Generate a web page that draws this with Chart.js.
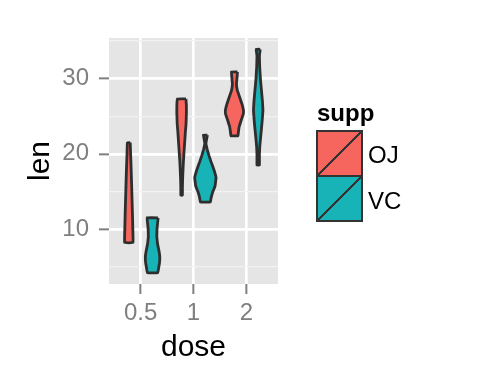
<!DOCTYPE html>
<html>
<head>
<meta charset="utf-8">
<script src="https://cdn.jsdelivr.net/npm/chart.js@4.4.1/dist/chart.umd.min.js"></script>
<style>
  body { margin: 0; background: #fff; font-family: "Liberation Sans", Arial, sans-serif; }
  #wrap { position: relative; width: 480px; height: 384px; }
  #legend .title { position: absolute; left: 317px; top: 101px; font-size: 24px; font-weight: bold; line-height: 24px; }
  .key { position: absolute; left: 316px; width: 47px; height: 47px; box-sizing: border-box; border: 2px solid #333; }
  .lab { position: absolute; left: 368px; font-size: 24px; line-height: 24px; color: #000; }
</style>
</head>
<body>
<div id="wrap">
  <canvas id="violinChart" width="480" height="384"></canvas>
  <div id="legend"></div>
</div>
<script>
const doses = ['0.5', '1', '2'];
const supps = ['OJ', 'VC'];
const suppColors = ['#F7655F', '#17B3B7'];
const yTicks = [10, 20, 30];
const yMinorTicks = [5, 15, 25, 35];

// violin outlines, top to bottom:
// len values and the half width of the violin at that len (in dose units)
const ojLen05 = [21.5, 20, 18, 16, 14, 12, 10, 8.2];
const ojWid05 = [0.027, 0.034, 0.044, 0.053, 0.061, 0.069, 0.076, 0.080];
const ojLen1 = [27.3, 26.5, 25.5, 24, 23, 21, 19, 17, 15.5, 14.5];
const ojWid1 = [0.082, 0.090, 0.091, 0.084, 0.072, 0.053, 0.034, 0.021, 0.015, 0.015];
const ojLen2 = [30.9, 30.2, 29.3, 28.5, 28, 26.7, 25.8, 25.3, 24.5, 23.6, 22.7, 22.4];
const ojWid2 = [0.057, 0.050, 0.038, 0.053, 0.076, 0.139, 0.171, 0.168, 0.130, 0.090, 0.072, 0.069];
const vcLen05 = [11.5, 10.8, 10, 9, 8, 7, 6.3, 5.5, 4.8, 4.2];
const vcWid05 = [0.105, 0.095, 0.084, 0.080, 0.095, 0.124, 0.137, 0.131, 0.114, 0.099];
const vcLen1 = [22.5, 22, 21.4, 20.6, 19.8, 19, 17.9, 16.8, 15.7, 14.9, 14.2, 13.6];
const vcWid1 = [0.038, 0.025, 0.010, 0.034, 0.067, 0.105, 0.162, 0.202, 0.183, 0.137, 0.110, 0.095];
const vcLen2 = [33.9, 33, 31.5, 30, 28.5, 27, 25.8, 24.1, 22.5, 21, 19.9, 18.5];
const vcWid2 = [0.038, 0.023, 0.029, 0.042, 0.061, 0.080, 0.090, 0.072, 0.050, 0.030, 0.023, 0.023];

const groups = [
  { supp: 0, dose: 0, len: ojLen05, wid: ojWid05 },
  { supp: 1, dose: 0, len: vcLen05, wid: vcWid05 },
  { supp: 0, dose: 1, len: ojLen1, wid: ojWid1 },
  { supp: 1, dose: 1, len: vcLen1, wid: vcWid1 },
  { supp: 0, dose: 2, len: ojLen2, wid: ojWid2 },
  { supp: 1, dose: 2, len: vcLen2, wid: vcWid2 }
];

// closed polygon: right side going down, left side coming back up
function outline(cx, lens, wids) {
  const right = lens.map((y, i) => ({ x: cx + wids[i], y: y }));
  const left = lens.map((y, i) => ({ x: cx - wids[i], y: y })).reverse();
  return right.concat(left, [right[0]]);
}

const datasets = groups.map(g => ({
  label: supps[g.supp],
  data: outline(g.dose + 1 + (g.supp === 0 ? -0.225 : 0.225), g.len, g.wid),
  showLine: true,
  fill: 'shape',
  tension: 0.04, // non-zero so chart.js doesn't take the fast path (it merges points sharing an x pixel)
  backgroundColor: suppColors[g.supp],
  borderColor: '#2E2E2E',
  borderWidth: 2.8,
  borderJoinStyle: 'round',
  pointRadius: 0,
  pointHoverRadius: 0
}));

// grey panel behind the grid
const panelBg = {
  id: 'panelBg',
  beforeDraw(chart) {
    const { ctx, chartArea: a } = chart;
    ctx.save();
    ctx.fillStyle = '#E5E5E5';
    ctx.fillRect(a.left, a.top, a.right - a.left, a.bottom - a.top);
    ctx.restore();
  }
};

Chart.defaults.font.family = '"Liberation Sans", Arial, sans-serif';

const ctx = document.getElementById('violinChart').getContext('2d');
new Chart(ctx, {
  type: 'scatter',
  data: { datasets: datasets },
  options: {
    responsive: false,
    animation: false,
    layout: { padding: { left: 0, top: 38, right: 202, bottom: 0 } },
    plugins: { legend: { display: false }, tooltip: { enabled: false } },
    scales: {
      x: {
        type: 'linear',
        min: 0.4,
        max: 3.6,
        afterBuildTicks: axis => { axis.ticks = doses.map((d, i) => ({ value: i + 1 })); },
        afterFit: scale => { scale.height = 100; },
        border: { display: false },
        grid: { color: '#FFFFFF', lineWidth: 2.7, tickColor: '#7F7F7F', tickWidth: 2, tickLength: 10 },
        ticks: {
          color: '#7F7F7F', font: { size: 24 }, padding: 5, maxRotation: 0, autoSkip: false,
          callback: (v, i) => doses[i]
        },
        title: { display: true, text: 'dose', color: '#000', font: { size: 30 }, padding: { top: 0, bottom: 18 } }
      },
      y: {
        type: 'linear',
        position: 'left',
        min: 2.7,
        max: 35.4,
        afterBuildTicks: axis => { axis.ticks = yTicks.map(v => ({ value: v })); },
        afterFit: scale => { scale.width = 109; },
        border: { display: false },
        grid: { color: '#FFFFFF', lineWidth: 2.7, tickColor: '#7F7F7F', tickWidth: 2, tickLength: 10 },
        ticks: { color: '#7F7F7F', font: { size: 24 }, padding: 10 },
        title: { display: true, text: 'len', color: '#000', font: { size: 30 }, padding: { top: 23, bottom: 0 } }
      },
      yMinor: {
        type: 'linear',
        position: 'left',
        min: 2.7,
        max: 35.4,
        afterBuildTicks: axis => { axis.ticks = yMinorTicks.map(v => ({ value: v })); },
        afterFit: scale => { scale.width = 0; },
        border: { display: false },
        grid: { color: '#F2F2F2', lineWidth: 1.3, drawTicks: false, tickLength: 0 },
        ticks: { display: false }
      }
    }
  },
  plugins: [panelBg]
});

// legend like ggplot's: keys with a diagonal stroke
const legend = document.getElementById('legend');
legend.innerHTML = '<div class="title">supp</div>';
supps.forEach((s, i) => {
  const c = suppColors[i];
  const key = document.createElement('div');
  key.className = 'key';
  key.style.top = (130 + i * 45) + 'px';
  key.style.background = `linear-gradient(to bottom right, ${c} calc(50% - 1.2px), #333 calc(50% - 1.2px), #333 calc(50% + 1.2px), ${c} calc(50% + 1.2px))`;
  legend.appendChild(key);
  const lab = document.createElement('div');
  lab.className = 'lab';
  lab.style.top = (143 + i * 46) + 'px';
  lab.textContent = s;
  legend.appendChild(lab);
});
</script>
</body>
</html>
